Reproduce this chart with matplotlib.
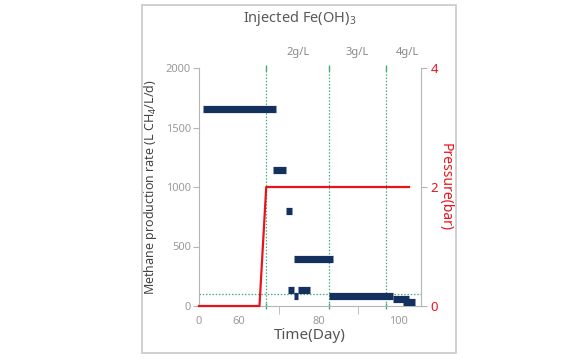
import numpy as np
import matplotlib
matplotlib.use('Agg')
from matplotlib import pyplot as plt
from matplotlib.patches import Rectangle

plt.rcParams['font.family'] = ['Noto Sans', 'DejaVu Sans']
plt.rcParams['mathtext.fontset'] = 'custom'
plt.rcParams['mathtext.rm'] = 'Noto Sans'
plt.rcParams['mathtext.it'] = 'Noto Sans'

# methane production rate, drawn as flat segments (start day, end day, rate)
seg_start = [6, 68.6, 71.9, 73.9, 72.3, 73.9, 75.0, 82.7, 98.7, 101.4]
seg_end = [69.4, 71.8, 73.5, 83.6, 73.9, 75.0, 77.8, 98.7, 102.7, 104.4]
seg_rate = [1655, 1143, 798, 392, 134, 80, 134, 80, 55, 30]

# reactor pressure (bar)
p_day = [0, 65.2, 66.9, 102.8]
p_bar = [0, 0, 2, 2]

# Fe(OH)3 injection days and doses
inj_day = [66.9, 82.6, 97.0]
inj_label = ['2g/L', '3g/L', '4g/L']
label_day = [74.9, 89.8, 102.3]
ref_rate = 100

x_ticks = [0, 60, 80, 100]
x_minor = [70, 90]


# compressed axis: 0-60 days take one tick interval, then 10 days per interval
def fwd(t):
    t = np.asarray(t, dtype=float)
    return np.where(t <= 60, t / 60.0, 1 + (t - 60) / 10.0)


def inv(u):
    u = np.asarray(u, dtype=float)
    return np.where(u <= 1, u * 60.0, 60 + (u - 1) * 10.0)


fig = plt.figure(figsize=(5.8, 3.6), dpi=100)
fig.patches.append(Rectangle((142 / 580, 1 - 353 / 360), 314 / 580, 348 / 360,
                             transform=fig.transFigure, fill=False,
                             edgecolor='#c8c8c8', linewidth=1.2))

ax = fig.add_axes([199 / 580, 1 - 306 / 360, 222 / 580, 238 / 360])
ax.set_xscale('function', functions=(fwd, inv))
ax.set_xlim(0, 105.8)
ax.set_ylim(0, 2000)

grey = '#b5b5b5'
tick_grey = '#9a9a9a'
green = '#45ad78'
navy = '#14305e'
red = '#e8141c'

# injection lines and reference level
for d in inj_day:
    ax.axvline(d, color=green, linestyle=(0, (1.2, 1.4)), linewidth=0.9)
    ax.plot([d, d], [0, 2000], linestyle='none', marker='|', color=green,
            markersize=4, clip_on=False)
ax.axhline(ref_rate, color=green, linestyle=(0, (1.2, 1.4)), linewidth=0.9)
for d, lab in zip(label_day, inj_label):
    ax.text(d, 2080, lab, ha='center', va='bottom', fontsize=8,
            color='#8a8a8a')

ax.hlines(seg_rate, seg_start, seg_end, colors=navy, linewidth=5.2,
          zorder=3)

for s in ['top', 'right']:
    ax.spines[s].set_visible(False)
for s in ['left', 'bottom']:
    ax.spines[s].set_color(grey)

ax.set_xticks(x_ticks)
ax.set_xticklabels([str(v) for v in x_ticks])
ax.set_xticks(x_minor, minor=True)
ax.tick_params(axis='x', which='major', length=0, pad=7, labelsize=8,
               labelcolor=tick_grey)
ax.tick_params(axis='x', which='minor', length=6, color=grey)
ax.set_yticks([0, 500, 1000, 1500, 2000])
ax.tick_params(axis='y', length=4, color=grey, labelsize=8, pad=2,
               labelcolor=tick_grey)

ax.set_xlabel('Time(Day)', fontsize=11, color='#555555', labelpad=1)
ax.set_ylabel('Methane production rate (L CH$_4$/L/d)', fontsize=9,
              color='#444444', labelpad=5)

ax2 = ax.twinx()
ax2.set_ylim(0, 4)
ax2.plot(p_day, p_bar, color=red, linewidth=1.6, zorder=4, clip_on=False)
for s in ['top', 'left', 'bottom']:
    ax2.spines[s].set_visible(False)
ax2.spines['right'].set_color(grey)
ax2.set_yticks([0, 2, 4])
ax2.tick_params(axis='y', length=4, color=grey, labelsize=9.5, pad=3,
                labelcolor=red)
ax2.set_ylabel('Pressure(bar)', fontsize=10, color=red,
               rotation=-90, labelpad=10.5)

fig.text(300 / 580, 1 - 18 / 360, 'Injected Fe(OH)$_3$', ha='center',
         va='center', fontsize=10.5, color='#5a5a5a')

fig.savefig('out.png', dpi=100)
